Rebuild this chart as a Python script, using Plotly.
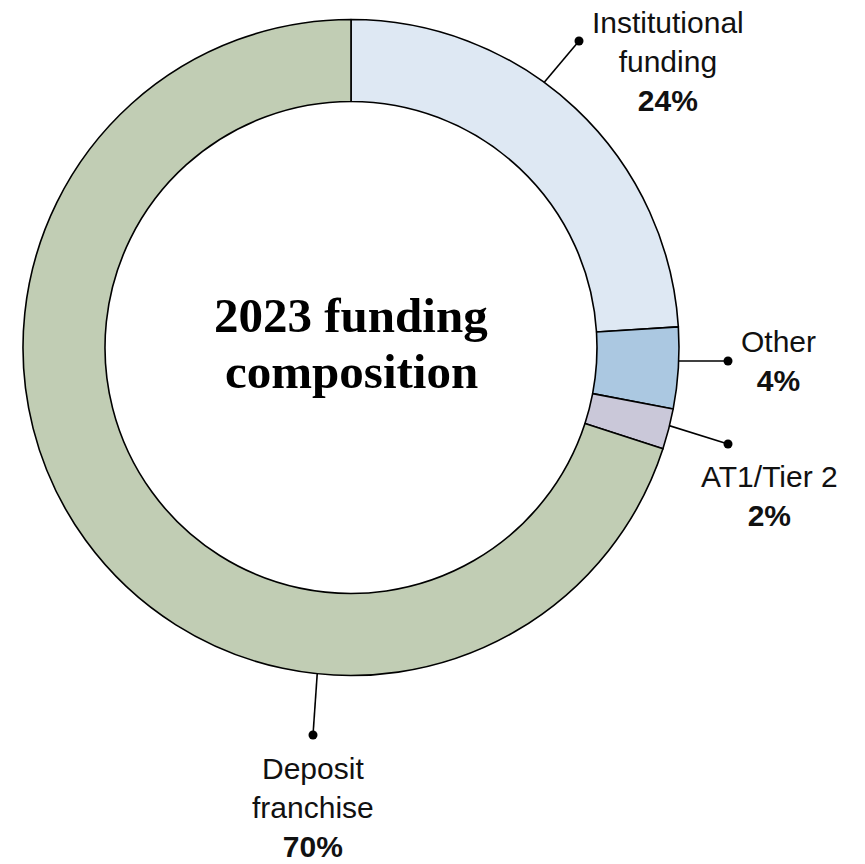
import math
import plotly.graph_objects as go

# ---- data ----
categories = ["Institutional funding", "Other", "AT1/Tier 2", "Deposit franchise"]
label_lines = [["Institutional", "funding"], ["Other"], ["AT1/Tier 2"], ["Deposit", "franchise"]]
shares = [24, 4, 2, 70]
colors = ["#dee8f3", "#abc8e1", "#cac8d9", "#c1cdb4"]
center_title = ["2023 funding", "composition"]

# page has an 8px body margin; the figure is sized to fit inside the window
OFF = 8
W, H = 865 - OFF, 864 - OFF
CX, CY, R = 351.0 - OFF, 347.5 - OFF, 328.0   # donut geometry in figure pixels
HOLE = 0.75

# leader line styling: (angle from 12 o'clock clockwise, start radius, dot position, label centre) in page px
leaders = [
    dict(angle=35.6, r0=293, dot=(579, 41), label=(668, 61)),
    dict(angle=92.7, r0=286, dot=(728, 361), label=(778, 361)),
    dict(angle=103.4, r0=295, dot=(728, 444), label=(769, 496)),
    dict(angle=186.1, r0=299, dot=(313, 735), label=(313, 807)),
]

fig = go.Figure()

fig.add_trace(go.Pie(
    labels=categories,
    values=shares,
    sort=False,
    direction="clockwise",
    rotation=0,
    hole=HOLE,
    marker=dict(colors=colors, line=dict(color="#000000", width=1.6)),
    textinfo="none",
    hoverinfo="label+percent",
    showlegend=False,
    domain=dict(x=[(CX - R) / W, (CX + R) / W], y=[1 - (CY + R) / H, 1 - (CY - R) / H]),
))

annotations = []
for i, ld in enumerate(leaders):
    a = math.radians(ld["angle"])
    x0 = CX + ld["r0"] * math.sin(a)
    y0 = CY - ld["r0"] * math.cos(a)
    dx, dy = ld["dot"][0] - OFF, ld["dot"][1] - OFF
    fig.add_trace(go.Scatter(
        x=[x0, dx], y=[y0, dy], mode="lines",
        line=dict(color="#000000", width=1.6),
        hoverinfo="skip", showlegend=False,
    ))
    fig.add_trace(go.Scatter(
        x=[dx], y=[dy], mode="markers",
        marker=dict(color="#000000", size=9),
        hoverinfo="skip", showlegend=False,
    ))
    lx, ly = ld["label"][0] - OFF, ld["label"][1] - OFF
    text = "<br>".join(label_lines[i]) + f"<br><b>{shares[i]}%</b>"
    annotations.append(dict(
        x=lx, y=ly, xref="x", yref="y", text=text, showarrow=False,
        xanchor="center", yanchor="middle", align="center",
        font=dict(family="Liberation Sans, Arial, sans-serif", size=30, color="#111111"),
    ))

for j, (t, yy) in enumerate(zip(center_title, [315 - OFF, 371 - OFF])):
    annotations.append(dict(
        x=CX, y=yy, xref="x", yref="y", text=f"<b>{t}</b>", showarrow=False,
        xanchor="center", yanchor="middle",
        font=dict(family="Liberation Serif, Times New Roman, serif", size=49, color="#000000"),
    ))

fig.update_layout(
    width=W, height=H,
    margin=dict(l=0, r=0, t=0, b=0),
    paper_bgcolor="white", plot_bgcolor="rgba(0,0,0,0)",
    xaxis=dict(range=[0, W], visible=False, domain=[0, 1], fixedrange=True),
    yaxis=dict(range=[H, 0], visible=False, domain=[0, 1], fixedrange=True),
    annotations=annotations,
)

fig.write_html("out.html")
